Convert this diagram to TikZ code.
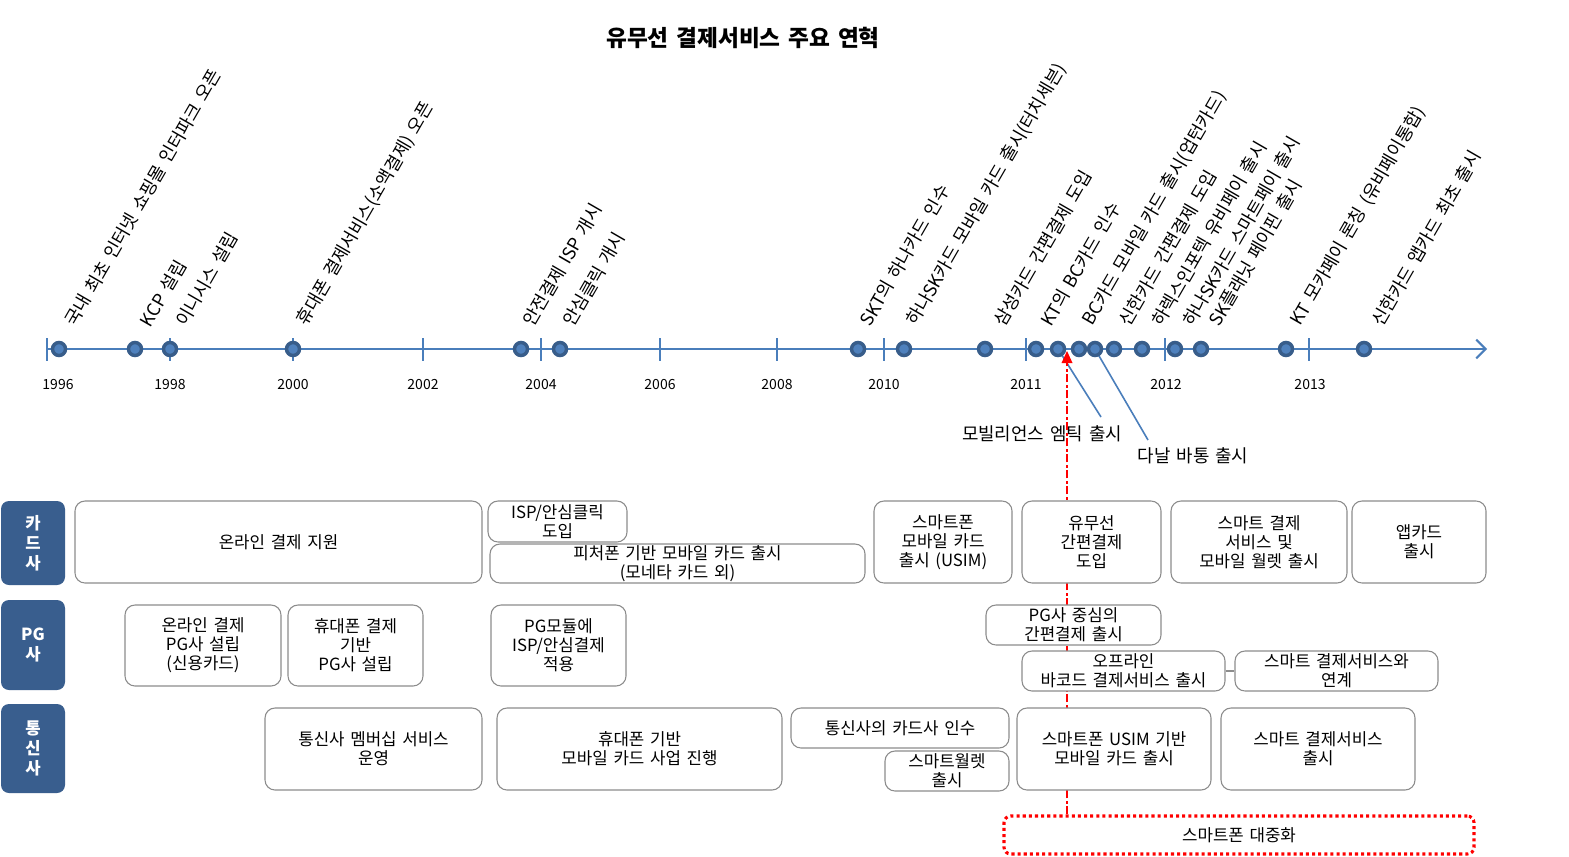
\documentclass[tikz,border=0pt]{standalone}
\usepackage{fontspec}
\setmainfont[WordSpace=1.5]{Noto Sans CJK KR}
\usetikzlibrary{arrows.meta}
\definecolor{tl}{HTML}{4A7EBB}
\definecolor{dotdark}{HTML}{385D8A}
\definecolor{dotfill}{HTML}{4F81BD}
\definecolor{catblue}{HTML}{395E8E}
\definecolor{bord}{HTML}{8C8C8C}
\tikzset{
  box/.style={draw=bord, line width=0.8pt, rounded corners=7.5pt, fill=white, align=center, inner sep=0pt, font=\fontsize{12.6}{14.25}\selectfont},
  catbox/.style={fill=catblue, rounded corners=6pt, text=white, align=center, inner sep=0pt, font=\fontsize{12.5}{15}\selectfont\bfseries},
  ev/.style={rotate=60, anchor=south west, inner sep=0pt, font=\fontsize{13.4}{14}\selectfont},
  yr/.style={font=\fontsize{10.5}{12}\selectfont},
  evdot/.style={circle, fill=dotfill, draw=dotdark, line width=2.6pt, minimum size=9.75pt, inner sep=0pt},
  axisline/.style={draw=tl, line width=1.5pt},
  callline/.style={draw=tl, line width=1.2pt},
  callout/.style={font=\fontsize{13.4}{14}\selectfont, inner sep=0pt},
  redline/.style={draw=red, line width=1.5pt, dash pattern=on 6pt off 2pt on 2pt off 2pt},
  redbox/.style={draw=red, line width=2.3pt, dash pattern=on 2.3pt off 2.3pt, rounded corners=5pt, fill=white, inner sep=0pt, font=\fontsize{12.6}{14}\selectfont},
  conn/.style={draw=bord, line width=1.5pt}
}
\newcommand\mybox[7][box]{\node[#1, minimum width={(#5-#3)*0.75pt}, minimum height={(#6-#4)*0.75pt}] (#2) at ({(#3+#5)/2},{(#4+#6)/2}) {#7};}
\begin{document}
\begin{tikzpicture}[x=0.75pt,y=-0.75pt]
\fill[white] (0,0) rectangle (1569,856);
\useasboundingbox (0,0) rectangle (1569,856);

% title
\node[font=\fontsize{17}{19}\selectfont\bfseries] (title) at (743,38) {유무선 결제서비스 주요 연혁};

% axis
\coordinate (a0) at (47,349);
\coordinate (a1) at (1487,349);
\draw[axisline, -{Straight Barb[length=7pt,width=14pt]}] (a0) -- (a1);
\foreach \x in {47,170,293,423,541,660,777,884,1026,1165,1309}
  \draw[axisline] (\x,338) -- (\x,361);

% years
\foreach \x/\y in {58/1996,170/1998,293/2000,423/2002,541/2004,660/2006,777/2008,884/2010,1026/2011,1166/2012,1310/2013}
  \node[yr] (y\y) at (\x,385) {\y};

% callout labels
\node[callout] (lm) at (1042,434) {모빌리언스 엠틱 출시};
\node[callout] (ld) at (1193,456) {다날 바통 출시};
\coordinate (cm) at (1101,417);
\coordinate (cd) at (1148,440);

% dots
\foreach \n/\x in {1/59,2/135,3/170,4/293,5/521,6/560,7/858,8/904,9/985,10/1036,11/1058,12/1079,13/1095,14/1114,15/1142,16/1175,17/1201,18/1286,19/1364}
  \coordinate (p\n) at (\x,349);

\draw[callline] (p11) -- (cm);
\draw[callline] (p13) -- (cd);

\foreach \n in {1,...,19}
  \node[evdot] (d\n) at (p\n) {};

% event labels
\node[ev] (e1) at (77,329) {국내 최초 인터넷 쇼핑몰 인터파크 오픈};
\node[ev] (e2) at (152,329) {KCP 설립};
\node[ev] (e3) at (188,329) {이니시스 설립};
\node[ev] (e4) at (310,329) {휴대폰 결제서비스(소액결제) 오픈};
\node[ev] (e5) at (535,329) {안전결제 ISP 개시};
\node[ev] (e6) at (575,329) {안심클릭 개시};
\node[ev] (e7) at (872,329) {SKT의 하나카드 인수};
\node[ev] (e8) at (920,329) {하나SK카드 모바일 카드 출시(터치세븐)};
\node[ev] (e9) at (1006,329) {삼성카드 간편결제 도입};
\node[ev] (e10) at (1053,329) {KT의 BC카드 인수};
\node[ev] (e12) at (1096,329) {BC카드 모바일 카드 출시(업턴카드)};
\node[ev] (e14) at (1131,329) {신한카드 간편결제 도입};
\node[ev] (e15) at (1164,329) {하렉스인포텍 유비페이 출시};
\node[ev] (e16) at (1195,329) {하나SK카드 스마트페이 출시};
\node[ev] (e17) at (1221,329) {SK플래닛 페이핀 출시};
\node[ev] (e18) at (1304,329) {KT 모카페이 론칭 (유비페이통합)};
\node[ev] (e19) at (1384,329) {신한카드 앱카드 최초 출시};

% bottom box and red arrow
\mybox[redbox]{mass}{1004}{816}{1474}{854}{스마트폰 대중화}
\coordinate (tip) at (1067,351);
\draw[redline] (mass.north -| tip) -- ([yshift=-8]tip);
\fill[red] (tip) -- ++(-5.5,12) -- ++(11,0) -- cycle;

% category boxes
\mybox[catbox]{cCard}{1}{501}{65}{585}{카\\드\\사}
\mybox[catbox]{cPG}{1}{600}{65}{690}{PG\\사}
\mybox[catbox]{cTel}{1}{704}{65}{793}{통\\신\\사}

% card row
\mybox{k1}{75}{501}{482}{583}{온라인 결제 지원}
\mybox{k2}{488}{501}{627}{542}{ISP/안심클릭\\도입}
\mybox{k3}{490}{544}{865}{583}{피처폰 기반 모바일 카드 출시\\(모네타 카드 외)}
\mybox{k4}{874}{501}{1012}{583}{스마트폰\\모바일 카드\\출시 (USIM)}
\mybox{k5}{1022}{501}{1161}{583}{유무선\\간편결제\\도입}
\mybox{k6}{1171}{501}{1347}{583}{스마트 결제\\서비스 및\\모바일 월렛 출시}
\mybox{k7}{1352}{501}{1486}{583}{앱카드\\출시}

% PG row
\mybox{g1}{125}{605}{281}{686}{온라인 결제\\PG사 설립\\(신용카드)}
\mybox{g2}{288}{605}{423}{686}{휴대폰 결제\\기반\\PG사 설립}
\mybox{g3}{491}{605}{626}{686}{PG모듈에\\ISP/안심결제\\적용}
\mybox{g4}{986}{605}{1161}{645}{PG사 중심의\\간편결제 출시}
\mybox{g5}{1022}{651}{1225}{691}{오프라인\\바코드 결제서비스 출시}
\mybox{g6}{1235}{651}{1438}{691}{스마트 결제서비스와\\연계}
\draw[conn] (g5.east) -- (g6.west);

% telecom row
\mybox{t1}{265}{708}{482}{790}{통신사 멤버십 서비스\\운영}
\mybox{t2}{497}{708}{782}{790}{휴대폰 기반\\모바일 카드 사업 진행}
\mybox{t3}{791}{708}{1009}{748}{통신사의 카드사 인수}
\mybox{t4}{885}{751}{1009}{791}{스마트월렛\\출시}
\mybox{t5}{1017}{708}{1211}{790}{스마트폰 USIM 기반\\모바일 카드 출시}
\mybox{t6}{1221}{708}{1415}{790}{스마트 결제서비스\\출시}
\end{tikzpicture}
\end{document}
